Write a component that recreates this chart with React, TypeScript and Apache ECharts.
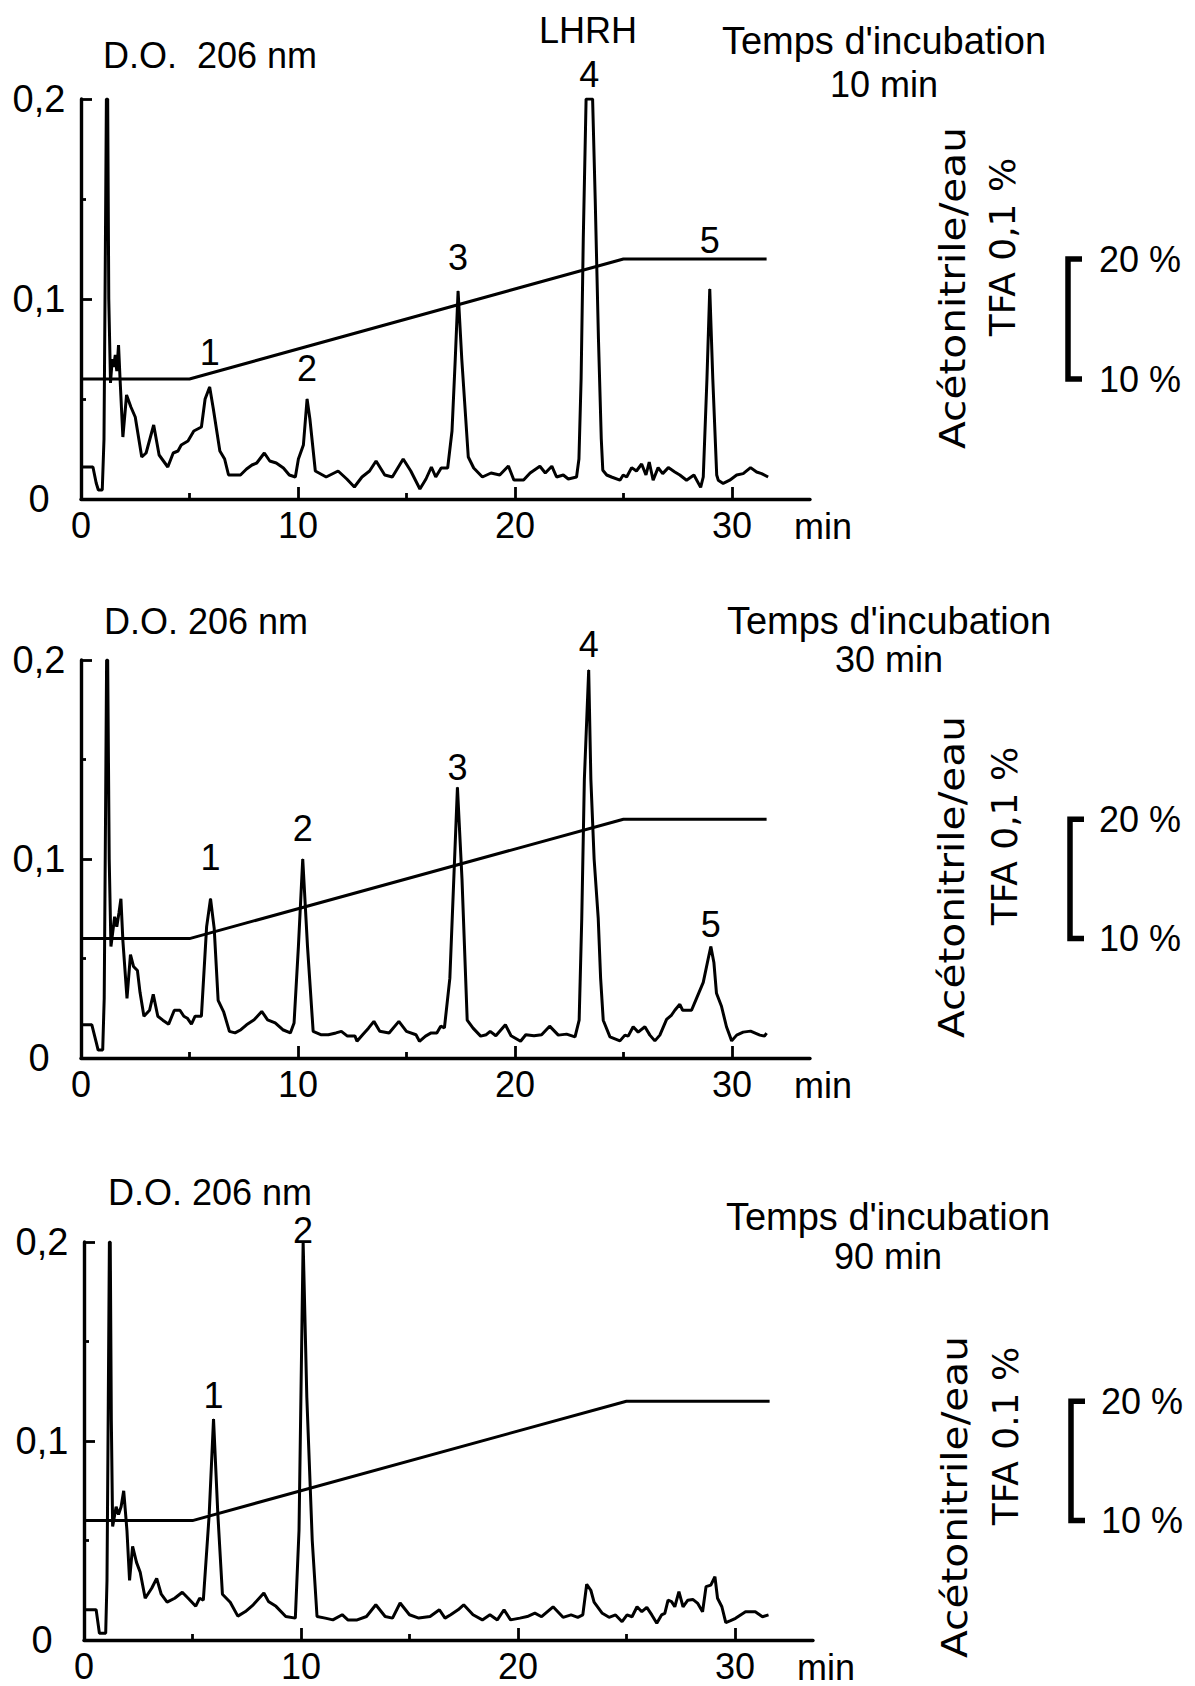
import React, { useEffect, useRef } from "react";
import * as echarts from "echarts";

// ---------- DATA ----------
// Chromatogram traces: [time (min), absorbance D.O. 206 nm]
const trace10: number[][] = [
  [0, 0.016], [0.3, 0.016], [0.55, 0.016], [0.7, 0.008], [0.8, 0.0045], [0.98, 0.0045], [1.06, 0.03], [1.12, 0.12], [1.17, 0.2], [1.23, 0.2], [1.28, 0.1], [1.36, 0.058],
  [1.44, 0.07], [1.5, 0.066], [1.58, 0.072], [1.65, 0.064], [1.73, 0.077], [1.8, 0.06], [1.93, 0.031], [2.1, 0.052], [2.3, 0.046], [2.5, 0.041], [2.8, 0.021], [3.0, 0.023],
  [3.35, 0.037], [3.6, 0.022], [4.0, 0.016], [4.25, 0.023], [4.47, 0.024], [4.62, 0.027], [4.93, 0.029], [5.2, 0.034], [5.55, 0.036], [5.72, 0.05], [5.93, 0.056], [6.1, 0.045],
  [6.4, 0.024], [6.62, 0.02], [6.8, 0.012], [7.35, 0.012], [7.63, 0.015], [7.88, 0.017], [8.1, 0.018], [8.45, 0.023], [8.7, 0.019], [9.0, 0.018], [9.33, 0.0155], [9.6, 0.012],
  [9.88, 0.011], [10.02, 0.02], [10.25, 0.027], [10.42, 0.05], [10.55, 0.04], [10.8, 0.014], [11.3, 0.011], [11.85, 0.014], [12.25, 0.01], [12.6, 0.006], [12.95, 0.011],
  [13.3, 0.014], [13.6, 0.019], [14.0, 0.012], [14.35, 0.011], [14.85, 0.02], [15.2, 0.014], [15.62, 0.005], [15.9, 0.01], [16.15, 0.016], [16.35, 0.011], [16.6, 0.0155],
  [16.9, 0.0155], [17.1, 0.034], [17.25, 0.07], [17.38, 0.104], [17.55, 0.07], [17.85, 0.021], [18.1, 0.0155], [18.5, 0.011], [18.9, 0.013], [19.3, 0.012], [19.7, 0.0165],
  [19.95, 0.0095], [20.4, 0.0095], [20.7, 0.013], [21.15, 0.0164], [21.4, 0.013], [21.7, 0.0164], [21.92, 0.011], [22.23, 0.012], [22.46, 0.01], [22.84, 0.011], [22.95, 0.02],
  [23.05, 0.06], [23.15, 0.13], [23.28, 0.2], [23.58, 0.2], [23.7, 0.15], [23.85, 0.08], [23.98, 0.03], [24.05, 0.0144], [24.23, 0.012], [24.45, 0.011], [24.84, 0.0094],
  [24.99, 0.012], [25.15, 0.011], [25.38, 0.0157], [25.6, 0.014], [25.84, 0.0175], [26.04, 0.012], [26.19, 0.0185], [26.37, 0.0094], [26.6, 0.0157], [26.81, 0.0127],
  [27.07, 0.0157], [27.37, 0.0135], [27.6, 0.012], [27.91, 0.0094], [28.25, 0.012], [28.56, 0.0058], [28.68, 0.011], [28.85, 0.06], [28.98, 0.105], [29.12, 0.06],
  [29.3, 0.012], [29.37, 0.0094], [29.6, 0.0078], [29.9, 0.0094], [30.22, 0.012], [30.52, 0.0127], [30.86, 0.0157], [31.14, 0.0135], [31.37, 0.0127], [31.67, 0.011],
];

const trace30: number[][] = [
  [0, 0.0167], [0.5, 0.0167], [0.7, 0.008], [0.79, 0.004], [1.0, 0.004], [1.07, 0.03], [1.13, 0.12], [1.18, 0.2], [1.23, 0.2], [1.3, 0.1], [1.38, 0.056], [1.55, 0.071],
  [1.65, 0.066], [1.75, 0.073], [1.84, 0.08], [1.93, 0.059], [2.12, 0.03], [2.28, 0.052], [2.42, 0.046], [2.6, 0.044], [2.72, 0.033], [2.9, 0.021], [3.16, 0.024], [3.33, 0.032],
  [3.54, 0.021], [3.77, 0.019], [4.04, 0.017], [4.3, 0.024], [4.56, 0.024], [4.74, 0.021], [4.9, 0.02], [5.09, 0.017], [5.26, 0.021], [5.55, 0.021], [5.79, 0.066], [5.97, 0.08],
  [6.14, 0.065], [6.32, 0.029], [6.58, 0.023], [6.84, 0.0134], [7.1, 0.0126], [7.37, 0.0142], [7.63, 0.0167], [7.98, 0.0192], [8.33, 0.0234], [8.6, 0.0192], [8.95, 0.0176],
  [9.3, 0.0142], [9.65, 0.0126], [9.82, 0.0176], [10.02, 0.056], [10.22, 0.1], [10.44, 0.056], [10.7, 0.0134], [11.05, 0.0117], [11.4, 0.0117], [11.75, 0.0126], [12.0, 0.0134],
  [12.28, 0.011], [12.63, 0.011], [12.72, 0.0084], [12.98, 0.0117], [13.25, 0.015], [13.5, 0.0184], [13.77, 0.0134], [14.2, 0.0126], [14.65, 0.0184], [15.0, 0.0134],
  [15.44, 0.0117], [15.6, 0.0084], [15.88, 0.011], [16.14, 0.0126], [16.4, 0.0126], [16.58, 0.016], [16.75, 0.0151], [17.0, 0.04], [17.35, 0.136], [17.56, 0.09], [17.8, 0.019],
  [18.07, 0.015], [18.42, 0.011], [18.68, 0.0117], [18.86, 0.0134], [19.12, 0.0112], [19.56, 0.0167], [19.82, 0.0112], [20.26, 0.0084], [20.5, 0.0117], [20.88, 0.0112],
  [21.23, 0.0117], [21.6, 0.016], [22.0, 0.0115], [22.38, 0.012], [22.77, 0.0106], [22.96, 0.019], [23.08, 0.07], [23.2, 0.14], [23.4, 0.195], [23.5, 0.14], [23.65, 0.1],
  [23.84, 0.07], [23.95, 0.04], [24.07, 0.019], [24.38, 0.0106], [24.84, 0.0086], [25.07, 0.0115], [25.22, 0.011], [25.45, 0.0157], [25.68, 0.013], [25.99, 0.0157],
  [26.22, 0.0115], [26.45, 0.0086], [26.68, 0.0115], [26.99, 0.0194], [27.22, 0.0216], [27.37, 0.024], [27.6, 0.027], [27.73, 0.024], [28.14, 0.024], [28.37, 0.03],
  [28.68, 0.038], [28.91, 0.05], [29.03, 0.056], [29.17, 0.048], [29.29, 0.0325], [29.52, 0.026], [29.75, 0.0157], [29.99, 0.0086], [30.22, 0.0115], [30.52, 0.013],
  [30.86, 0.0135], [31.29, 0.0115], [31.5, 0.011], [31.6, 0.0125],
];

const trace90: number[][] = [
  [0, 0.0152], [0.56, 0.0152], [0.71, 0.0034], [1.0, 0.0034], [1.06, 0.03], [1.12, 0.12], [1.17, 0.2], [1.21, 0.2], [1.26, 0.11], [1.32, 0.057], [1.48, 0.067], [1.59, 0.063],
  [1.71, 0.067], [1.83, 0.075], [1.98, 0.055], [2.1, 0.03], [2.24, 0.047], [2.42, 0.039], [2.59, 0.034], [2.82, 0.021], [3.12, 0.026], [3.35, 0.031], [3.56, 0.023], [3.83, 0.019],
  [4.18, 0.021], [4.53, 0.024], [4.8, 0.021], [5.15, 0.017], [5.33, 0.021], [5.5, 0.02], [5.77, 0.063], [5.97, 0.111], [6.17, 0.063], [6.38, 0.023], [6.74, 0.019], [7.09, 0.012],
  [7.44, 0.0143], [7.8, 0.0177], [8.29, 0.0236], [8.5, 0.0194], [8.85, 0.0169], [9.3, 0.0118], [9.74, 0.011], [9.91, 0.055], [10.1, 0.2], [10.27, 0.122], [10.52, 0.05],
  [10.74, 0.0118], [11.12, 0.011], [11.47, 0.0101], [11.9, 0.0127], [12.16, 0.0101], [12.59, 0.0101], [13.02, 0.0118], [13.45, 0.0177], [13.88, 0.0118], [14.22, 0.011],
  [14.57, 0.0186], [15.0, 0.0127], [15.43, 0.011], [15.95, 0.0118], [16.38, 0.0152], [16.64, 0.011], [16.9, 0.0127], [17.24, 0.0152], [17.5, 0.0177], [17.93, 0.0127],
  [18.36, 0.0101], [18.71, 0.0127], [19.05, 0.0101], [19.36, 0.0152], [19.66, 0.0101], [20.09, 0.011], [20.43, 0.0118], [20.78, 0.0135], [21.09, 0.0117], [21.62, 0.0167],
  [22.08, 0.0114], [22.45, 0.0126], [22.76, 0.0114], [22.99, 0.0126], [23.17, 0.028], [23.36, 0.025], [23.51, 0.019], [23.89, 0.0134], [24.2, 0.0114], [24.5, 0.0126],
  [24.8, 0.0092], [25.03, 0.0126], [25.26, 0.0117], [25.49, 0.0167], [25.71, 0.0142], [25.94, 0.0164], [26.17, 0.0126], [26.4, 0.0084], [26.62, 0.0126], [26.77, 0.0134],
  [26.92, 0.02], [27.08, 0.0193], [27.23, 0.0167], [27.42, 0.0243], [27.61, 0.0167], [27.83, 0.02], [28.06, 0.0204], [28.29, 0.0184], [28.51, 0.0142], [28.67, 0.0268],
  [28.89, 0.0276], [29.08, 0.0318], [29.2, 0.021], [29.4, 0.0167], [29.58, 0.0087], [29.8, 0.0097], [30.03, 0.0109], [30.26, 0.0126], [30.49, 0.0142], [30.94, 0.0142],
  [31.27, 0.0117], [31.55, 0.0126],
];

// Acetonitrile gradient (% acetonitrile vs time)
const gradientTime = [0, 5, 25, 31.6];
const gradientPct = [10, 10, 20, 20];

// Peak numbering: label, retention time, apex absorbance
const peaks10 = [
  { n: "1", t: 5.93, a: 0.056 }, { n: "2", t: 10.42, a: 0.05 }, { n: "3", t: 17.38, a: 0.104 },
  { n: "4", t: 23.43, a: 0.2 }, { n: "5", t: 28.98, a: 0.105 },
];
const peaks30 = [
  { n: "1", t: 5.97, a: 0.08 }, { n: "2", t: 10.22, a: 0.1 }, { n: "3", t: 17.35, a: 0.136 },
  { n: "4", t: 23.4, a: 0.195 }, { n: "5", t: 29.03, a: 0.056 },
];
const peaks90 = [
  { n: "1", t: 5.97, a: 0.111 }, { n: "2", t: 10.1, a: 0.2 },
];

const xTickValues = [0, 10, 20, 30];
const xMinorTickValues = [5, 15, 25];
const incubationTimes = ["10 min", "30 min", "90 min"];
const tfaLabels = ["TFA 0,1 %", "TFA 0,1 %", "TFA 0.1 %"];
const doLabels = ["D.O.  206 nm", "D.O. 206 nm", "D.O. 206 nm"];
const pctBracket = [20, 10];

// ---------- LAYOUT ----------
const FONT = "Liberation Sans, Arial, Helvetica, sans-serif";
const X_MAX = 33.6;
const Y_MAX = 0.2;
const PCT_MAX = 100 / 3;

const LAYOUT = [
  { left: 81, top: 99, height: 400, gaps: [16, 12, 15, 6, 30], doX: 103, doY: 55, incX: 884, incY1: 41, incY2: 84, rot1: [952, 288], rot2: [1002, 247], brX: 1068, pctX: 1140 },
  { left: 81, top: 660, height: 398, gaps: [23, 12, 1, 7, 4], doX: 104, doY: 621, incX: 889, incY1: 621, incY2: 659, rot1: [951, 877], rot2: [1004, 836], brX: 1070, pctX: 1140 },
  { left: 84, top: 1242, height: 398, gaps: [5, -7], doX: 108, doY: 1192, incX: 888, incY1: 1217, incY2: 1256, rot1: [954, 1497], rot2: [1005, 1436], brX: 1071, pctX: 1142 },
];
const WIDTH = 729;

const traces = [trace10, trace30, trace90];
const peaks = [peaks10, peaks30, peaks90];

function buildOption() {
  const grid: any[] = [];
  const xAxis: any[] = [];
  const yAxis: any[] = [];
  const series: any[] = [];
  const graphic: any[] = [];

  LAYOUT.forEach((L, i) => {
    grid.push({ left: L.left, top: L.top, width: WIDTH, height: L.height });
    xAxis.push({
      type: "value", gridIndex: i, min: 0, max: X_MAX, position: "bottom",
      axisLine: { show: true, onZero: false, lineStyle: { color: "#000", width: 3.4 } },
      axisTick: { show: true, inside: true, length: 12, customValues: xTickValues, lineStyle: { color: "#000", width: 2.8 } },
      axisLabel: { show: true, customValues: xTickValues, color: "#000", fontSize: 36, fontFamily: FONT, margin: 8, formatter: (v: number) => String(v) },
      splitLine: { show: false },
    });
    xAxis.push({
      type: "value", gridIndex: i, min: 0, max: X_MAX, position: "bottom",
      axisLine: { show: false },
      axisTick: { show: true, inside: true, length: 6, customValues: xMinorTickValues, lineStyle: { color: "#000", width: 2.8 } },
      axisLabel: { show: false },
      splitLine: { show: false },
    });
    yAxis.push({
      type: "value", gridIndex: i, min: 0, max: Y_MAX, interval: 0.1,
      axisLine: { show: true, onZero: false, lineStyle: { color: "#000", width: 3.4 } },
      axisTick: { show: true, inside: true, length: 11, lineStyle: { color: "#000", width: 2.8 } },
      minorTick: { show: true, splitNumber: 2, length: 5, lineStyle: { color: "#000", width: 2.8 } },
      axisLabel: {
        color: "#000", fontSize: 38, fontFamily: FONT, align: "center", margin: 42,
        formatter: (v: number) => (v === 0 ? "0" : v.toFixed(1).replace(".", ",")),
      },
      splitLine: { show: false }, minorSplitLine: { show: false },
    });
    yAxis.push({ type: "value", gridIndex: i, min: 0, max: PCT_MAX, show: false, splitLine: { show: false } });

    series.push({
      type: "line", xAxisIndex: 2 * i, yAxisIndex: 2 * i, data: traces[i], symbol: "none",
      lineStyle: { color: "#000", width: 3 }, clip: true, z: 3,
    });
    series.push({
      type: "line", xAxisIndex: 2 * i, yAxisIndex: 2 * i + 1,
      data: gradientTime.map((t, k) => [t, gradientPct[k]]), symbol: "none",
      lineStyle: { color: "#000", width: 3 }, z: 2,
    });
    series.push({
      type: "scatter", xAxisIndex: 2 * i, yAxisIndex: 2 * i, symbolSize: 1,
      itemStyle: { color: "#000", opacity: 1 },
      data: peaks[i].map((p, k) => ({ name: p.n, value: [p.t, p.a], label: { distance: L.gaps[k] } })),
      label: { show: true, position: "top", formatter: "{b}", color: "#000", opacity: 1, fontSize: 36, fontFamily: FONT },
      emphasis: { disabled: true },
      z: 4,
    });

    const pctToY = (p: number) => L.top + L.height * (1 - p / PCT_MAX);
    const textStyle = (text: string, extra: any = {}) => ({ text, fill: "#000", fontSize: 36, fontFamily: FONT, ...extra });

    graphic.push({ type: "text", x: L.doX, y: L.doY, style: textStyle(doLabels[i], { align: "left", verticalAlign: "middle" }) });
    graphic.push({ type: "text", x: L.incX, y: L.incY1, style: textStyle("Temps d'incubation", { fontSize: 38, align: "center", verticalAlign: "middle" }) });
    graphic.push({ type: "text", x: L.incX, y: L.incY2, style: textStyle(incubationTimes[i], { align: "center", verticalAlign: "middle" }) });
    graphic.push({ type: "text", x: L.left + 34.2 * (WIDTH / X_MAX), y: L.top + L.height + 27, style: textStyle("min", { align: "center", verticalAlign: "middle" }) });
    graphic.push({
      type: "text", x: L.rot1[0], y: L.rot1[1], rotation: Math.PI / 2, scaleX: 1.13,
      style: textStyle("Acétonitrile/eau", { fontFamily: "DejaVu Sans, sans-serif", align: "center", verticalAlign: "middle" }),
    });
    graphic.push({
      type: "text", x: L.rot2[0], y: L.rot2[1], rotation: Math.PI / 2,
      style: textStyle(tfaLabels[i], { fontFamily: "DejaVu Sans, sans-serif", align: "center", verticalAlign: "middle" }),
    });
    const yTop = pctToY(pctBracket[0]);
    const yBot = pctToY(pctBracket[1]);
    graphic.push({
      type: "polyline",
      shape: { points: [[L.brX + 14, yTop], [L.brX, yTop], [L.brX, yBot], [L.brX + 14, yBot]] },
      style: { stroke: "#000", lineWidth: 5.5, fill: null },
    });
    graphic.push({ type: "text", x: L.pctX, y: yTop, style: textStyle(pctBracket[0] + " %", { align: "center", verticalAlign: "middle" }) });
    graphic.push({ type: "text", x: L.pctX, y: yBot, style: textStyle(pctBracket[1] + " %", { align: "center", verticalAlign: "middle" }) });
  });

  graphic.push({ type: "text", x: 588, y: 30, style: { text: "LHRH", fill: "#000", fontSize: 36, fontFamily: FONT, align: "center", verticalAlign: "middle" } });

  return {
    animation: false,
    backgroundColor: "#fff",
    textStyle: { fontFamily: FONT },
    grid, xAxis, yAxis, series, graphic,
  };
}

export default function App() {
  const ref = useRef<HTMLDivElement>(null);
  useEffect(() => {
    if (!ref.current) return;
    const chart = echarts.init(ref.current, undefined, { renderer: "svg" });
    chart.setOption(buildOption() as any);
    return () => chart.dispose();
  }, []);
  return (
    <div
      ref={ref}
      style={{ position: "absolute", left: 0, top: 0, width: 1195, height: 1686, background: "#fff" }}
    />
  );
}
